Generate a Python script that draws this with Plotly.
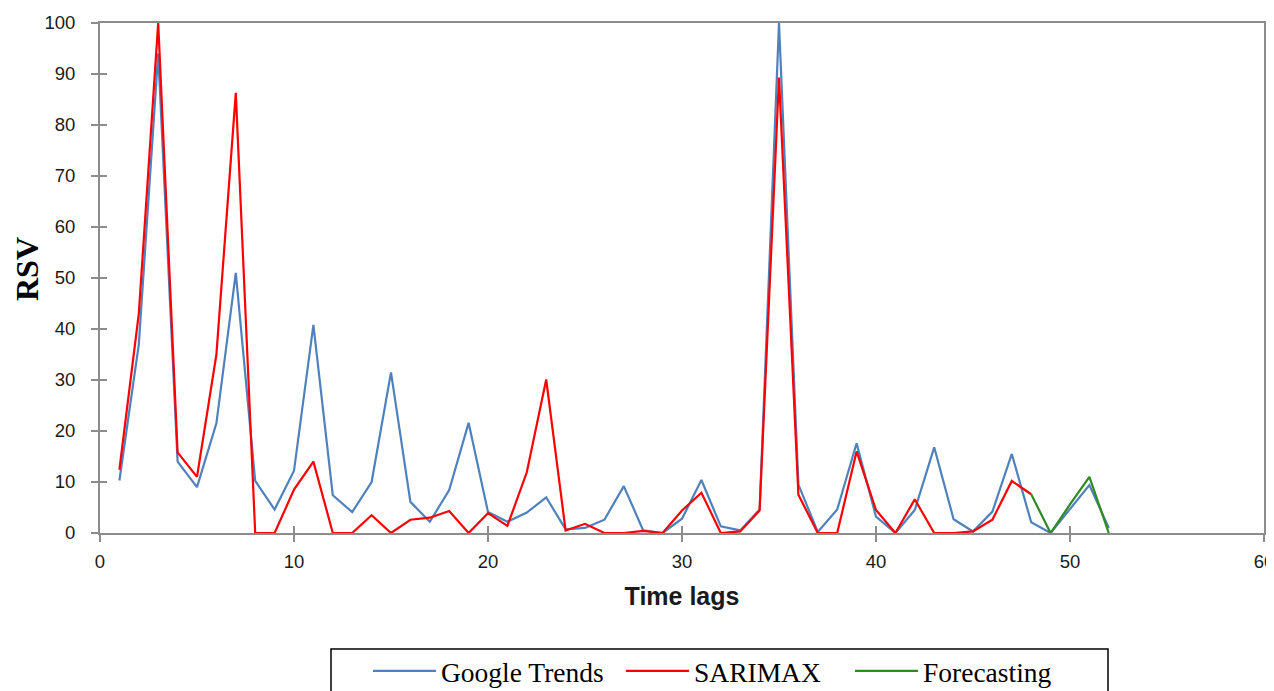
import plotly.graph_objects as go

# ---- data ----
lags_gt = list(range(1, 53))
google_trends = [10.3, 37, 94, 14, 9, 21.5, 51, 10.2, 4.6, 12.2,
                 40.8, 7.4, 4.1, 10, 31.5, 6.1, 2.2, 8.4, 21.6, 4.1,
                 2.2, 4, 7, 0.7, 1, 2.6, 9.2, 0.5, 0, 2.8,
                 10.4, 1.3, 0.5, 4.6, 100, 9.5, 0.2, 4.6, 17.6, 3.2,
                 0, 4.5, 16.8, 2.7, 0.3, 4.2, 15.5, 2.1, 0, 4.8,
                 9.4, 1]

lags_sarimax = list(range(1, 49))
sarimax = [12.4, 43, 100, 15.8, 11, 35, 86.3, 0, 0, 8.5,
           14, 0, 0, 3.5, 0, 2.6, 3, 4.3, 0, 3.9,
           1.4, 11.9, 30.1, 0.5, 1.8, 0, 0, 0.4, 0, 4.4,
           7.9, 0, 0.3, 4.4, 89.3, 7.5, 0, 0, 16, 4.5,
           0, 6.6, 0, 0, 0.3, 2.6, 10.2, 7.6]

lags_fc = [48, 49, 50, 51, 52]
forecasting = [7.6, 0, 5.6, 11, 0]

x_ticks = [0, 10, 20, 30, 40, 50, 60]
y_ticks = [0, 10, 20, 30, 40, 50, 60, 70, 80, 90, 100]

AXIS_GREY = "#8c8c8c"

# page body has an 8px margin; size the figure so the plot lands where the reference has it
W, H = 1290, 683
OFF = 8

fig = go.Figure()
fig.add_trace(go.Scatter(x=lags_gt, y=google_trends, mode="lines",
                         name="Google Trends", legend="legend",
                         line=dict(color="#4F81BD", width=2.2)))
fig.add_trace(go.Scatter(x=lags_sarimax, y=sarimax, mode="lines",
                         name="SARIMAX", legend="legend2",
                         line=dict(color="#FF0000", width=2.2)))
fig.add_trace(go.Scatter(x=lags_fc, y=forecasting, mode="lines",
                         name="Forecasting", legend="legend3",
                         line=dict(color="#2E8B22", width=2.2)))
# helper trace for the inner half of the crossing tick marks
fig.add_trace(go.Scatter(x=[None], y=[None], xaxis="x2", yaxis="y2",
                         showlegend=False, hoverinfo="skip"))

tick_font = dict(family="Liberation Sans, Arial", size=18.5, color="#1a1a1a")
legend_font = dict(family="Liberation Serif, Times New Roman", size=27.5, color="black")


def leg(page_x):
    return dict(orientation="h", xref="container", yref="container",
                x=(page_x - OFF - 6) / W, xanchor="left",
                y=1 - (671 - OFF) / H, yanchor="middle",
                font=legend_font, bgcolor="rgba(0,0,0,0)", borderwidth=0,
                itemwidth=63)


fig.update_layout(
    width=W, height=H,
    margin=dict(l=100 - OFF, r=OFF + W - 1264, t=23 - OFF, b=H - (533 - OFF), autoexpand=False),
    paper_bgcolor="white", plot_bgcolor="white",
    showlegend=True,
    legend=leg(374), legend2=leg(627), legend3=leg(856),
    xaxis=dict(range=[0, 60], tickvals=x_ticks, ticktext=[str(v) for v in x_ticks],
               showgrid=False, zeroline=False, automargin=False,
               showline=True, linecolor=AXIS_GREY, linewidth=2, mirror=True,
               ticks="outside", ticklen=7, tickwidth=1.5, tickcolor=AXIS_GREY,
               ticklabelstandoff=4, ticklabeloverflow="allow",
               tickfont=tick_font,
               title=dict(text="<b>Time lags</b>", standoff=16,
                          font=dict(family="Liberation Sans, Arial", size=25, color="#1a1a1a"))),
    yaxis=dict(range=[0, 100], tickvals=y_ticks, ticktext=[str(v) for v in y_ticks],
               showgrid=False, zeroline=False, automargin=False,
               showline=True, linecolor=AXIS_GREY, linewidth=2, mirror=True,
               ticks="outside", ticklen=7, tickwidth=1.5, tickcolor=AXIS_GREY,
               ticklabelstandoff=12, ticklabeloverflow="allow",
               tickfont=tick_font),
    xaxis2=dict(range=[0, 60], overlaying="x", anchor="y2", tickvals=x_ticks,
                showticklabels=False, showgrid=False, zeroline=False, showline=False,
                ticks="inside", ticklen=7, tickwidth=1.5, tickcolor=AXIS_GREY),
    yaxis2=dict(range=[0, 100], overlaying="y", anchor="x2", tickvals=y_ticks,
                showticklabels=False, showgrid=False, zeroline=False, showline=False,
                ticks="inside", ticklen=7, tickwidth=1.5, tickcolor=AXIS_GREY),
    annotations=[dict(text="<b>RSV</b>", textangle=-90, showarrow=False,
                      xref="paper", yref="paper",
                      x=(27 - 100) / 1164, y=(533 - 269) / 510,
                      xanchor="center", yanchor="middle",
                      font=dict(family="Liberation Serif, Times New Roman", size=32, color="black"))],
    shapes=[dict(type="rect", xref="paper", yref="paper",
                 x0=(331 - 100) / 1164, x1=(1108 - 100) / 1164,
                 y0=-0.2275, y1=-0.40,
                 line=dict(color="black", width=1.5), fillcolor="rgba(0,0,0,0)")],
)

fig.write_html("out.html")
